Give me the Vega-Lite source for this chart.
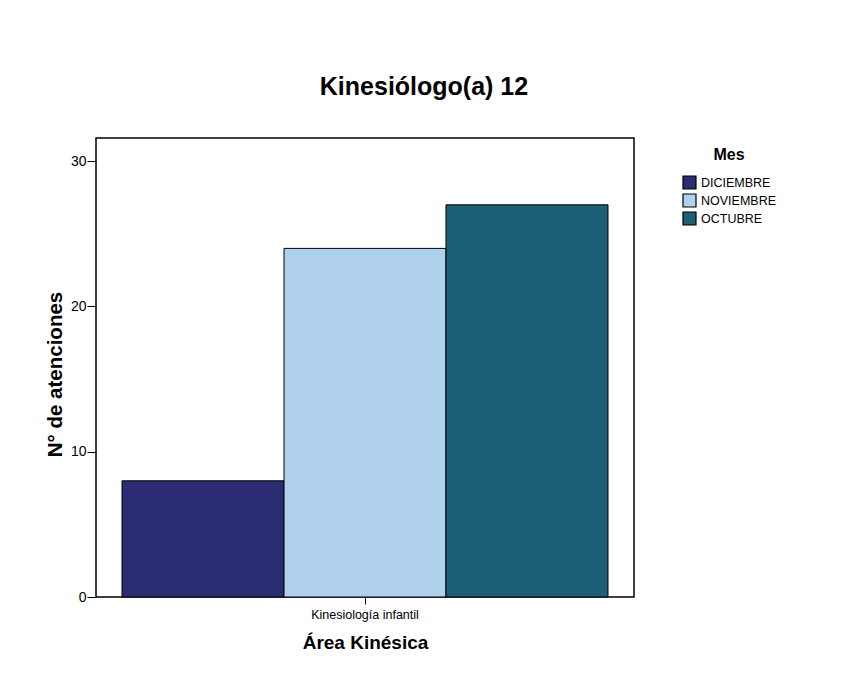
{
  "$schema": "https://vega.github.io/schema/vega-lite/v6.json",
  "width": 538,
  "height": 459,
  "autosize": {"type": "none"},
  "padding": {"left": 96, "top": 138, "right": 212, "bottom": 84},
  "background": "white",
  "title": {
    "text": "Kinesiólogo(a) 12",
    "font": "Liberation Sans",
    "fontSize": 25,
    "fontWeight": "bold",
    "color": "black",
    "anchor": "middle",
    "dx": 59,
    "offset": 38
  },
  "data": {
    "values": [
      {"area": "Kinesiología infantil", "mes": "DICIEMBRE", "atenciones": 8},
      {"area": "Kinesiología infantil", "mes": "NOVIEMBRE", "atenciones": 24},
      {"area": "Kinesiología infantil", "mes": "OCTUBRE", "atenciones": 27}
    ]
  },
  "mark": {"type": "bar", "stroke": "black", "strokeWidth": 1},
  "encoding": {
    "x": {
      "field": "area",
      "type": "nominal",
      "title": "Área Kinésica",
      "scale": {"paddingInner": 0, "paddingOuter": 0.0535},
      "axis": {
        "labelAngle": 0,
        "domain": false,
        "tickSize": 7,
        "tickColor": "black",
        "labelPadding": 4,
        "labelFontSize": 12.5,
        "labelFont": "Liberation Sans",
        "labelColor": "black",
        "titleFont": "Liberation Sans",
        "titleFontSize": 19,
        "titleFontWeight": "bold",
        "titleColor": "black",
        "titlePadding": 13
      }
    },
    "xOffset": {"field": "mes", "type": "nominal", "scale": {"paddingInner": 0, "paddingOuter": 0}},
    "y": {
      "field": "atenciones",
      "type": "quantitative",
      "title": "N° de atenciones",
      "scale": {"domain": [0, 31.6], "nice": false},
      "axis": {
        "values": [0, 10, 20, 30],
        "grid": false,
        "domain": false,
        "tickSize": 9,
        "tickColor": "black",
        "labelPadding": 1,
        "labelFontSize": 14,
        "labelFont": "Liberation Sans",
        "labelColor": "black",
        "titleFont": "Liberation Sans",
        "titleFontSize": 20.5,
        "titleFontWeight": "bold",
        "titleColor": "black",
        "titlePadding": 5,
        "titleY": 236
      }
    },
    "color": {
      "field": "mes",
      "type": "nominal",
      "scale": {
        "domain": ["DICIEMBRE", "NOVIEMBRE", "OCTUBRE"],
        "range": ["#2b2c74", "#afd1ee", "#1e5f78"]
      },
      "legend": {
        "title": "Mes",
        "orient": "none",
        "legendX": 586,
        "legendY": 9,
        "titleAnchor": "middle",
        "titleFont": "Liberation Sans",
        "titleFontSize": 16,
        "titleFontWeight": "bold",
        "titleColor": "black",
        "titlePadding": 12,
        "symbolType": "square",
        "symbolSize": 169,
        "symbolStrokeColor": "black",
        "symbolStrokeWidth": 1.2,
        "symbolOpacity": 1,
        "labelFont": "Liberation Sans",
        "labelFontSize": 12.5,
        "labelColor": "black",
        "labelOffset": 4,
        "rowPadding": -1
      }
    }
  },
  "config": {
    "view": {"stroke": "black", "strokeWidth": 1.5}
  }
}
